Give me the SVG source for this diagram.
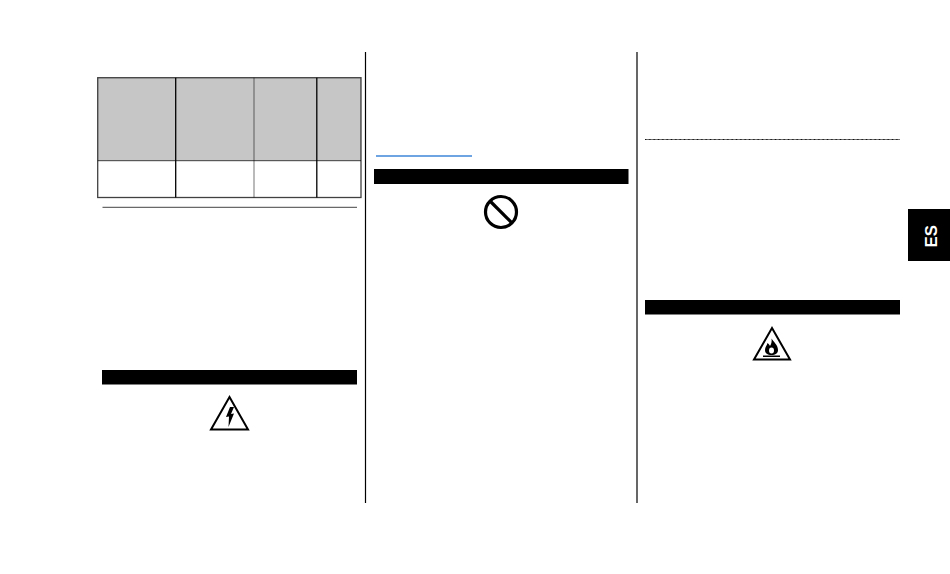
<svg xmlns="http://www.w3.org/2000/svg" width="950" height="574" viewBox="0 0 950 574">
<style>
.bar{fill:#000}
.rule{stroke:#000;stroke-width:1.2;fill:none}
.cell{stroke:#000;stroke-width:1.300}
.warn{fill:#fff;stroke:#000;stroke-width:2;stroke-linejoin:miter}
</style>
<rect width="950" height="574" fill="#fff"/>
<g id="column-rules">
<line class="rule" x1="365.500" y1="52" x2="365.500" y2="503"/>
<line class="rule" x1="637" y1="52" x2="637" y2="503"/>
</g>
<g id="table">
<rect x="98" y="78" width="263" height="83" fill="#c6c6c6"/>
<rect x="98" y="161" width="263" height="36.500" fill="#fff"/>
<rect class="cell" x="97.700" y="77.700" width="263.300" height="119.800" fill="none" stroke-opacity=".75"/>
<line class="cell" x1="97.700" y1="160.700" x2="361" y2="160.700" stroke-width="2" stroke-opacity=".55"/>
<line class="cell" x1="175.700" y1="77.700" x2="175.700" y2="197.500"/>
<line class="cell" x1="254" y1="77.700" x2="254" y2="197.500" stroke-width="2" stroke-opacity=".42"/>
<line class="cell" x1="316.800" y1="77.700" x2="316.800" y2="197.500"/>
</g>
<line id="rule-left" x1="102.500" y1="207.300" x2="357" y2="207.300" stroke="#444" stroke-width="1"/>
<g id="warning-electric">
<rect class="bar" x="102" y="370" width="255" height="14.500"/>
<path class="warn" d="M229.500 397 L248 429.500 H211 Z"/>
<path d="M230 407 L226 417 L229 416.500 L228.500 427 L234 413.500 L231 414 L234 407 Z" fill="#000"/>
</g>
<line id="link-underline" x1="376" y1="156" x2="472" y2="156" stroke="#3f86d8" stroke-width="1.400"/>
<g id="warning-prohibit">
<rect class="bar" x="374" y="169" width="254.500" height="15"/>
<circle cx="501" cy="212" r="15.500" fill="#fff" stroke="#000" stroke-width="3.200"/>
<line x1="490.500" y1="201.500" x2="511.500" y2="222.500" stroke="#000" stroke-width="3.200"/>
</g>
<line id="rule-right" x1="645" y1="139.500" x2="900" y2="139.500" stroke="#111" stroke-width="1" stroke-dasharray="1 .3"/>
<g id="warning-flame">
<rect class="bar" x="645" y="300" width="255" height="14.500"/>
<path class="warn" d="M772 328 L790 359.500 H754 Z"/>
<path d="M771.500 338.500 C773.500 342 778 345 778 350 C778 353.500 775.500 355 771.500 355 C767.500 355 765 353.500 765 350 C765 347 767 345.500 767.500 343 C768.800 344 769.500 345 770 346 C771.300 344 772 341.500 771.500 338.500 Z" fill="#000"/>
<ellipse cx="771.500" cy="350.500" rx="2.500" ry="3" fill="#fff"/>
<rect x="763" y="355.500" width="17" height="1.500" fill="#000"/>
</g>
<g id="tab-es">
<rect class="bar" x="908" y="209" width="42" height="52"/>
<text transform="translate(936.800 247.500) rotate(-90)" font-family="'Liberation Sans',Arial,sans-serif" font-size="17" font-weight="700" fill="#fff" textLength="22.500" lengthAdjust="spacingAndGlyphs">ES</text>
</g>
</svg>
